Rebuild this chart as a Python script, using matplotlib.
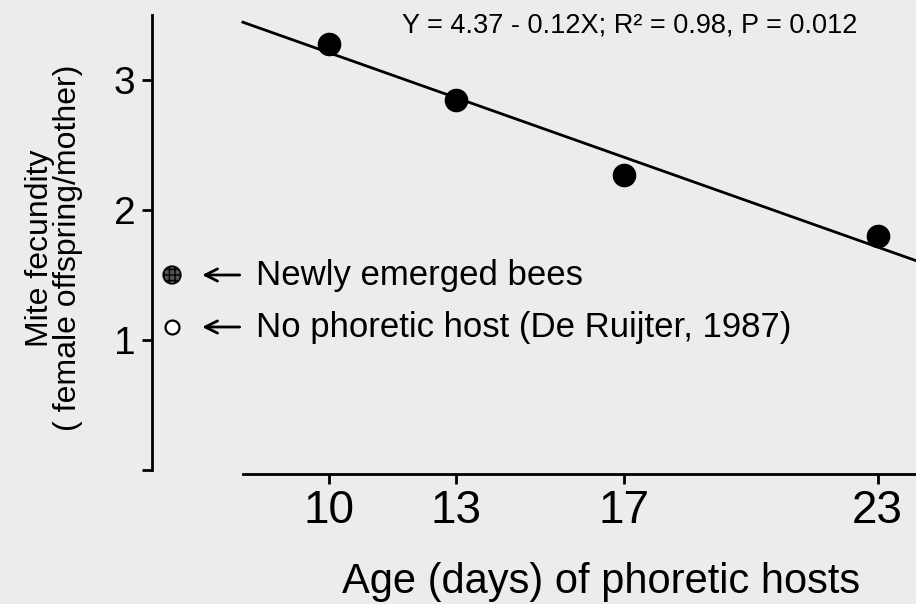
import matplotlib
matplotlib.use('Agg')
import matplotlib.pyplot as plt

# data
ages = [10, 13, 17, 23]
fecundity = [3.28, 2.85, 2.27, 1.80]
ref_labels = ['Newly emerged bees', 'No phoretic host (De Ruijter, 1987)']
ref_values = [1.50, 1.10]
fit_intercept = 4.36
fit_slope = -0.115
fit_span = [7.96, 25]
eq_text = 'Y = 4.37 - 0.12X; R\u00b2 = 0.98, P = 0.012'
xticks = [10, 13, 17, 23]
yticks = [0, 1, 2, 3]
ytick_labels = ['', '1', '2', '3']

plt.rcParams['font.family'] = ['Liberation Sans', 'DejaVu Sans']
bg = '#eaecee'

fig = plt.figure(figsize=(9.16, 6.04), dpi=100, facecolor=bg)
ax = fig.add_axes([152/916, 134/604, 764/916, 455/604])
ax.set_facecolor(bg)
ax.set_xlim(5.806, 23.91)
ax.set_ylim(0, 3.5)

for s in ['top', 'right']:
    ax.spines[s].set_visible(False)
ax.spines['left'].set_linewidth(2)
ax.spines['bottom'].set_linewidth(2)
ax.spines['bottom'].set_bounds(7.96, 23.91)
ax.spines['bottom'].set_position(('outward', 3))

ax.set_xticks(xticks)
ax.set_xticklabels([str(t) for t in xticks], fontsize=33)
ax.set_yticks(yticks)
ax.set_yticklabels(ytick_labels, fontsize=28)
ax.tick_params(axis='both', direction='out', length=7, width=2, pad=4)
ax.tick_params(axis='y', pad=5)

# fitted line
fx = fit_span
fy = [fit_intercept + fit_slope * v for v in fx]
ax.plot(fx, fy, color='black', lw=2, zorder=2)
ax.plot(ages, fecundity, 'o', color='black', ms=16, zorder=3)

fig.text(402/916, 1 - 26/604, eq_text, fontsize=19.5, ha='left', va='center')

# reference points on the y axis
rx = 6.28
ax.scatter([rx], [ref_values[0]], s=160, facecolor='#555555', edgecolor='black',
           hatch='+++', lw=1.2, zorder=3)
ax.plot([rx], [ref_values[1]], 'o', ms=10, mfc='white', mec='black', mew=1.6, zorder=3)
for lab, v in zip(ref_labels, ref_values):
    ax.annotate('', xy=(6.93, v), xytext=(7.95, v),
                arrowprops=dict(arrowstyle='->', lw=2, color='black', mutation_scale=22))
    ax.text(8.26, v, lab, fontsize=25, ha='left', va='center')

fig.text(54/916, 1 - 248/604, 'Mite fecundity\n( female offspring/mother)', rotation=90,
         fontsize=23, ha='center', va='center', linespacing=0.88)
fig.text(601/916, 1 - 582/604, 'Age (days) of phoretic hosts', fontsize=30,
         ha='center', va='center')

fig.savefig('out.png', dpi=100, facecolor=bg)
